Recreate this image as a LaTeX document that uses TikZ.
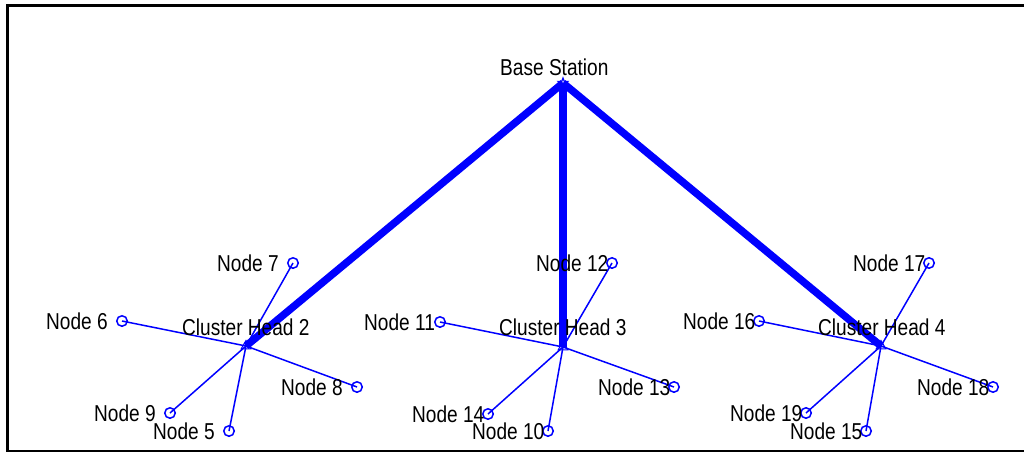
\documentclass[tikz,border=0pt]{standalone}
\usepackage{fontspec}
\setmainfont[FakeStretch=0.83]{Liberation Sans}
\usetikzlibrary{shapes.geometric}
\definecolor{mblue}{RGB}{0,0,255}
\begin{document}
\begin{tikzpicture}[x=1pt,y=-1pt,
  sensor/.style={circle,draw=mblue,line width=1.5pt,minimum size=10.5pt,inner sep=0pt},
  head/.style={regular polygon,regular polygon sides=3,draw=mblue,line width=1pt,minimum size=11pt,inner sep=0pt},
  bs/.style={star,star points=5,star point ratio=2.4,draw=mblue,line width=1.2pt,minimum size=10pt,inner sep=0pt},
  lbl/.style={anchor=west,inner sep=0pt,font=\fontsize{23}{23}\selectfont,text=black},
  thin link/.style={draw=mblue,line width=1.5pt},
  thick link/.style={draw=mblue,line width=7.5pt},
  frame/.style={draw=black,line width=3pt}]
\useasboundingbox (0,0) rectangle (1024,452);
% frame
\coordinate (fTL) at (7.5,5.5);
\coordinate (fTR) at (1024,5.5);
\coordinate (fBL) at (7.5,452);
\coordinate (bL) at (6,451);
\coordinate (bR) at (1024,451);
\draw[frame] (fTR) -- (fTL) -- (fBL);
\draw[draw=black,line width=2pt] (bL) -- (bR);

% base station and cluster heads
\node[bs] (BS) at (563,83) {};
\node[head] (CH2) at (246,346) {};
\node[head] (CH3) at (563,347) {};
\node[head] (CH4) at (881,346) {};

% sensor nodes
\node[sensor] (n7) at (293,263) {};
\node[sensor] (n6) at (122,321) {};
\node[sensor] (n8) at (357,387) {};
\node[sensor] (n9) at (170,413) {};
\node[sensor] (n5) at (229,431) {};
\node[sensor] (n12) at (612,263) {};
\node[sensor] (n11) at (440,322) {};
\node[sensor] (n13) at (674,387) {};
\node[sensor] (n14) at (488,414) {};
\node[sensor] (n10) at (548,431) {};
\node[sensor] (n17) at (929,263) {};
\node[sensor] (n16) at (759,321) {};
\node[sensor] (n18) at (993,387) {};
\node[sensor] (n19) at (806,413) {};
\node[sensor] (n15) at (866,431) {};

% thin links
\foreach \n in {n7,n6,n8,n9,n5} \draw[thin link] (CH2.center) -- (\n.center);
\foreach \n in {n12,n11,n13,n14,n10} \draw[thin link] (CH3.center) -- (\n.center);
\foreach \n in {n17,n16,n18,n19,n15} \draw[thin link] (CH4.center) -- (\n.center);

% thick links
\draw[thick link] (BS.center) -- (CH2.center);
\draw[thick link] (BS.center) -- (CH3.center);
\draw[thick link] (BS.center) -- (CH4.center);

% labels
\node[lbl] (tBS) at (500,67) {Base Station};
\node[lbl] (tCH2) at (182,327) {Cluster Head 2};
\node[lbl] (tCH3) at (499,327) {Cluster Head 3};
\node[lbl] (tCH4) at (818,327) {Cluster Head 4};
\foreach \n/\t in {n7/Node 7,n6/Node 6,n8/Node 8,n9/Node 9,n5/Node 5,
  n12/Node 12,n11/Node 11,n13/Node 13,n14/Node 14,n10/Node 10,
  n17/Node 17,n16/Node 16,n18/Node 18,n19/Node 19,n15/Node 15}
  \node[lbl] (t\n) at ([xshift=-76pt]\n.center) {\t};
\end{tikzpicture}
\end{document}
